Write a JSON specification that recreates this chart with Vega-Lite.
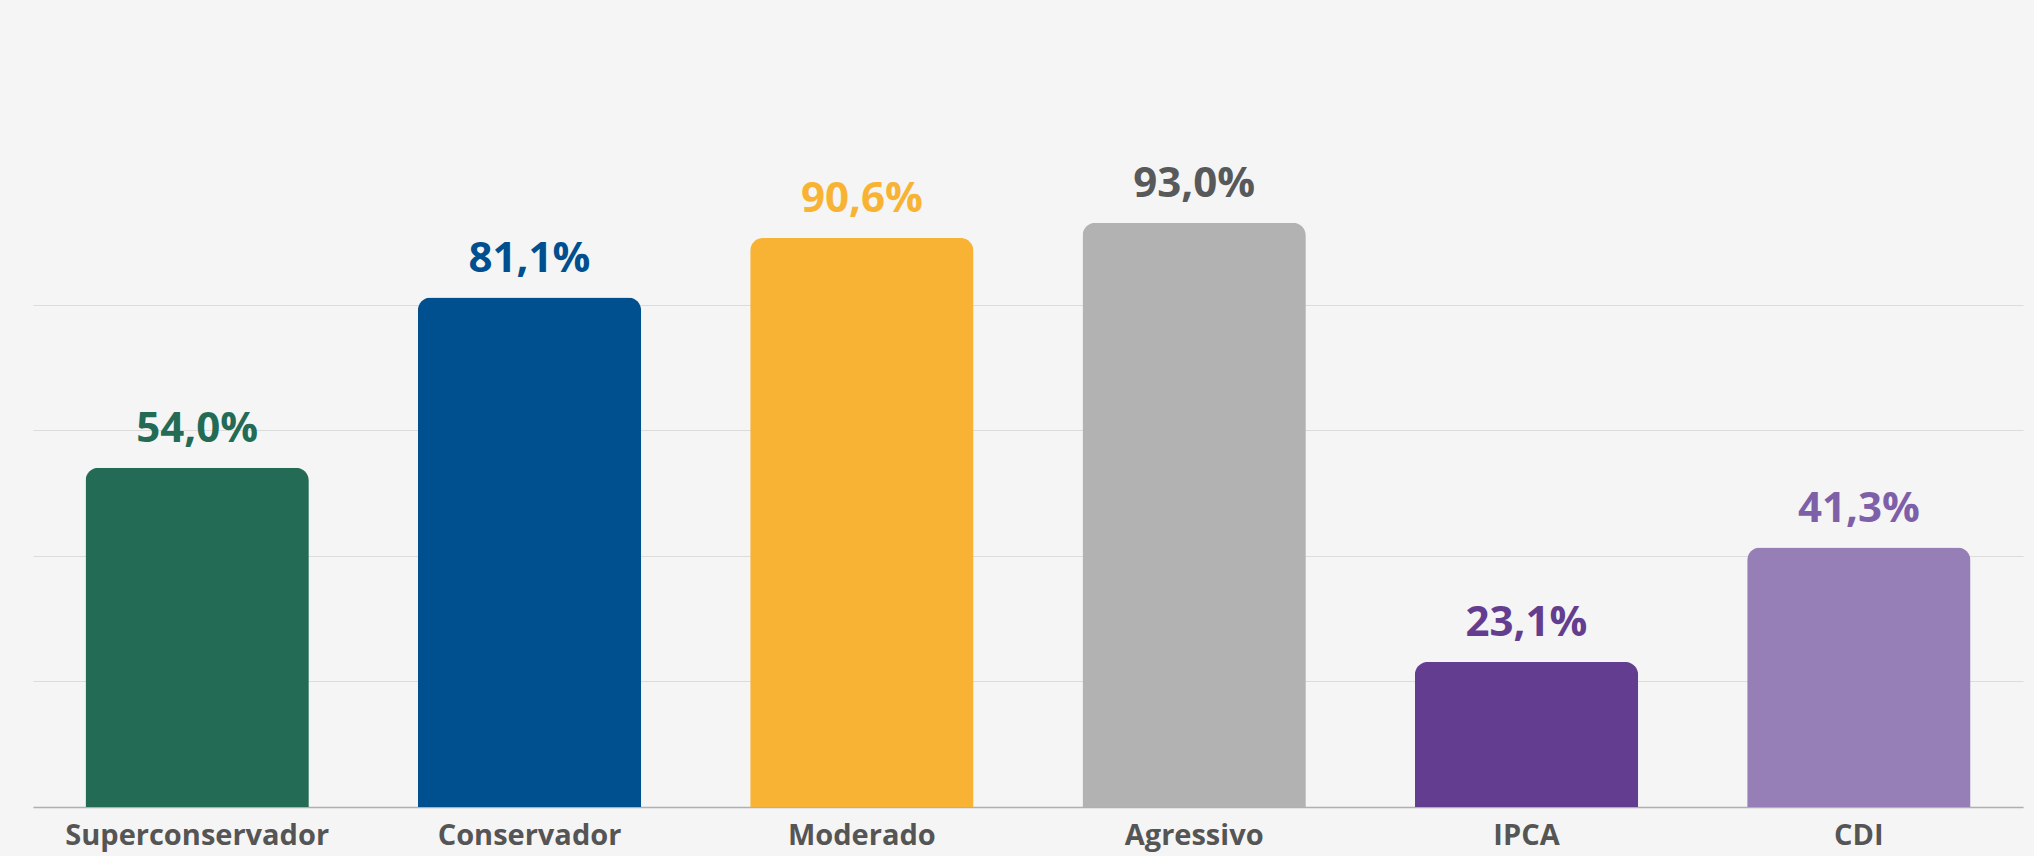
{
  "$schema": "https://vega.github.io/schema/vega-lite/v6.json",
  "autosize": "none",
  "width": 1990,
  "height": 760,
  "padding": {"left": 33, "top": 47, "right": 11, "bottom": 49},
  "background": "#F5F5F5",
  "config": {"view": {"stroke": null}, "font": "Open Sans"},
  "data": {"values": [
    {"cat": "Superconservador", "v": 54.0},
    {"cat": "Conservador", "v": 81.1},
    {"cat": "Moderado", "v": 90.6},
    {"cat": "Agressivo", "v": 93.0},
    {"cat": "IPCA", "v": 23.1},
    {"cat": "CDI", "v": 41.3}
  ]},
  "transform": [{"calculate": "replace(format(datum.v, '.1f'), '.', ',') + '%'", "as": "label"}],
  "encoding": {
    "x": {"field": "cat", "type": "nominal", "sort": null,
      "scale": {"paddingInner": 0.328, "paddingOuter": 0.158},
      "axis": {"title": null, "labelAngle": 0, "labelLimit": 0, "labelFont": "Open Sans", "labelFontSize": 29, "labelFontWeight": "bold", "labelColor": "#555555", "labelPadding": 14, "ticks": false, "domainColor": "#B0B0B0", "domainWidth": 1.5}},
    "y": {"field": "v", "type": "quantitative",
      "scale": {"domain": [0, 121], "nice": false},
      "axis": {"title": null, "labels": false, "ticks": false, "domain": false, "values": [0, 20, 40, 60, 80], "gridColor": "#DCDCDC", "gridWidth": 1}}
  },
  "layer": [
    {"mark": {"type": "bar", "cornerRadiusTopLeft": 13, "cornerRadiusTopRight": 13},
     "encoding": {"color": {"field": "cat", "type": "nominal", "legend": null,
       "scale": {"domain": ["Superconservador", "Conservador", "Moderado", "Agressivo", "IPCA", "CDI"],
                 "range": ["#236B55", "#005090", "#F8B334", "#B2B2B2", "#633D8F", "#967EB6"]}}}},
    {"mark": {"type": "text", "baseline": "alphabetic", "dy": -26, "fontSize": 42, "fontWeight": "bold", "font": "Open Sans"},
     "encoding": {"text": {"field": "label"},
       "color": {"field": "cat", "type": "nominal", "legend": null,
         "scale": {"domain": ["Superconservador", "Conservador", "Moderado", "Agressivo", "IPCA", "CDI"],
                   "range": ["#236B55", "#005090", "#F8B334", "#58595B", "#633D8F", "#7E60A9"]}}}}
  ],
  "resolve": {"scale": {"color": "independent"}}
}
